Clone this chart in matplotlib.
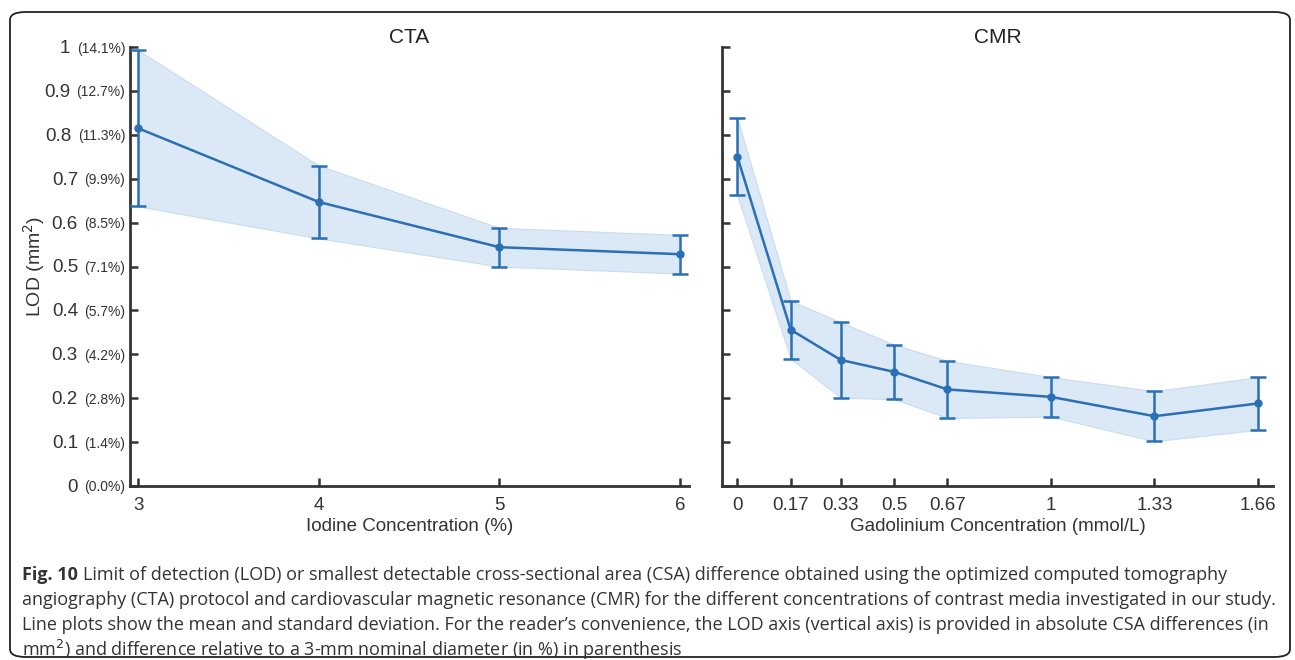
import numpy as np
import matplotlib.pyplot as plt
from matplotlib.patches import FancyBboxPatch

# CTA: iodine concentration (%)
cta_x = [3, 4, 5, 6]
cta_mean = [0.815, 0.647, 0.544, 0.528]
cta_sd = [0.178, 0.083, 0.044, 0.044]

# CMR: gadolinium concentration (mmol/L)
cmr_x = [0, 0.17, 0.33, 0.5, 0.67, 1, 1.33, 1.66]
cmr_xlabels = ['0', '0.17', '0.33', '0.5', '0.67', '1', '1.33', '1.66']
cmr_mean = [0.750, 0.356, 0.287, 0.260, 0.220, 0.203, 0.159, 0.188]
cmr_sd = [0.088, 0.066, 0.086, 0.062, 0.065, 0.045, 0.057, 0.060]

yticks = [0, 0.1, 0.2, 0.3, 0.4, 0.5, 0.6, 0.7, 0.8, 0.9, 1]
ylabels = ['0', '0.1', '0.2', '0.3', '0.4', '0.5', '0.6', '0.7', '0.8', '0.9', '1']
pct_labels = ['(0.0%)', '(1.4%)', '(2.8%)', '(4.2%)', '(5.7%)', '(7.1%)',
              '(8.5%)', '(9.9%)', '(11.3%)', '(12.7%)', '(14.1%)']

plt.rcParams['font.family'] = ['Liberation Sans', 'DejaVu Sans']
line_c = '#2b6fb5'
fill_c = '#dbe8f6'
axis_c = '#333333'

fig = plt.figure(figsize=(12.95, 6.6), dpi=100)

# rounded frame around figure + caption
frame = FancyBboxPatch((10 / 1295, 3 / 660), 1280 / 1295, 645 / 660,
                       boxstyle='round,pad=0,rounding_size=0.012',
                       transform=fig.transFigure, fill=False,
                       edgecolor='#222222', linewidth=1.3)
fig.patches.append(frame)

ax1 = fig.add_axes([130 / 1295, 174 / 660, 559 / 1295, 439 / 660])
ax2 = fig.add_axes([722 / 1295, 174 / 660, 551 / 1295, 439 / 660])


def draw(ax, x, mean, sd):
    mean = np.array(mean)
    sd = np.array(sd)
    ax.fill_between(x, mean - sd, mean + sd, color=fill_c, linewidth=0.8,
                    edgecolor='#c9dcf1', zorder=1)
    ax.errorbar(x, mean, yerr=sd, color=line_c, linewidth=1.8, marker='o',
                markersize=5, capsize=6, capthick=1.8, elinewidth=1.8, zorder=3)
    ax.set_ylim(0, 1)
    ax.set_yticks(yticks)
    for s in ['top', 'right']:
        ax.spines[s].set_visible(False)
    for s in ['left', 'bottom']:
        ax.spines[s].set_color(axis_c)
        ax.spines[s].set_linewidth(2)
    ax.tick_params(direction='in', length=6, width=1.8, color=axis_c,
                   labelcolor=axis_c)
    ax.tick_params(axis='x', labelsize=13.5, pad=8)


draw(ax1, cta_x, cta_mean, cta_sd)
ax1.set_xlim(2.955, 6.05)
ax1.set_xticks(cta_x)
# percent in small type as tick labels, absolute value in larger type before it
ax1.set_yticklabels(pct_labels)
ax1.tick_params(axis='y', labelsize=10, pad=3.5)
ax1.set_xlabel('Iodine Concentration (%)', fontsize=13.5, color=axis_c, labelpad=3)
ax1.set_ylabel('LOD (mm$^2$)', fontsize=14, color=axis_c)
ax1.yaxis.set_label_coords(-0.148, 0.5)
ax1.set_title('CTA', fontsize=15, color='#222222', pad=1)

draw(ax2, cmr_x, cmr_mean, cmr_sd)
ax2.set_xlim(-0.049, 1.708)
ax2.set_xticks(cmr_x)
ax2.set_xticklabels(cmr_xlabels)
ax2.set_yticklabels([])
ax2.set_xlabel('Gadolinium Concentration (mmol/L)', fontsize=13.5, color=axis_c, labelpad=3)
ax2.set_title('CMR', fontsize=15, color='#222222', pad=1)

fig.canvas.draw()
for lab_art, num in zip(ax1.get_yticklabels(), ylabels):
    ax1.annotate(num, xy=(0, 0.5), xycoords=lab_art, xytext=(-4.5, 0),
                 textcoords='offset points', ha='right', va='center',
                 fontsize=13.5, color=axis_c, annotation_clip=False)

caption = ("Limit of detection (LOD) or smallest detectable cross-sectional area (CSA) difference obtained using the optimized computed tomography\n"
           "angiography (CTA) protocol and cardiovascular magnetic resonance (CMR) for the different concentrations of contrast media investigated in our study.\n"
           "Line plots show the mean and standard deviation. For the reader\u2019s convenience, the LOD axis (vertical axis) is provided in absolute CSA differences (in\n"
           "mm$^2$) and difference relative to a 3-mm nominal diameter (in %) in parenthesis")
lines = caption.split('\n')
y0 = 575
for i, ln in enumerate(lines):
    if i == 0:
        t = fig.text(22 / 1295, 1 - (y0 + 25 * i) / 660, 'Fig. 10', fontsize=13,
                     fontweight='bold', family=['Open Sans', 'DejaVu Sans'],
                     color='#333333', va='center', ha='left')
        fig.canvas.draw()
        bb = t.get_window_extent()
        x_start = (bb.x1 + 5) / 1295
    else:
        x_start = 22 / 1295
    fig.text(x_start, 1 - (y0 + 25 * i) / 660, ln, fontsize=13,
             family=['Open Sans', 'DejaVu Sans'], color='#333333',
             va='center', ha='left')

fig.savefig('out.png', dpi=100)
